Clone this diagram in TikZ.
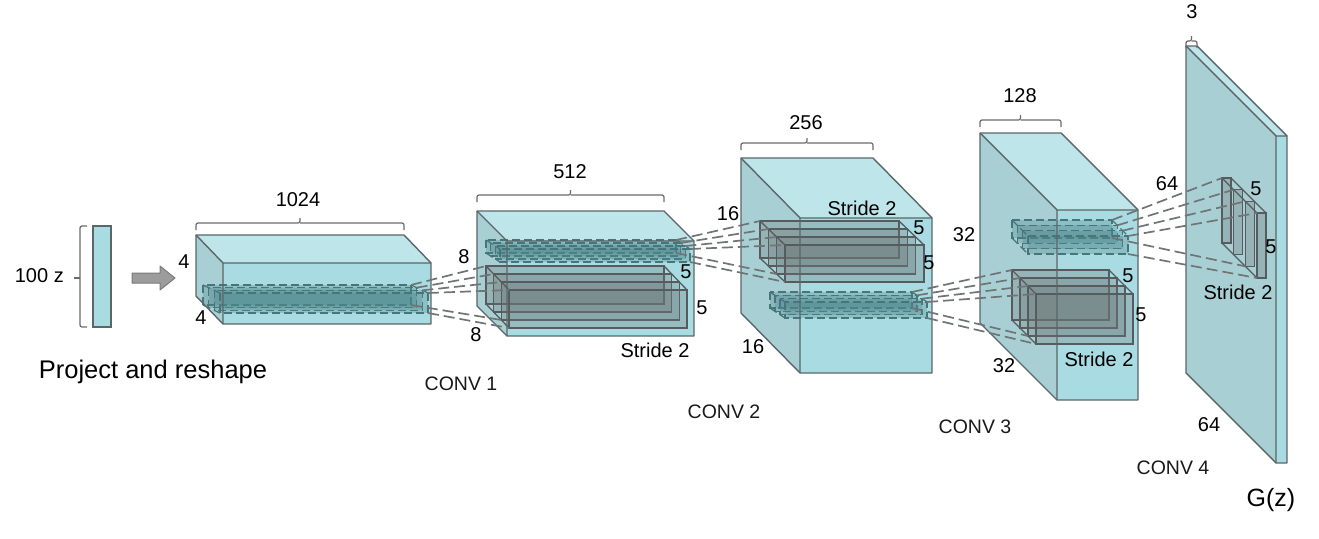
\documentclass[tikz,border=0pt]{standalone}
\usepackage{fontspec}
\setmainfont{Liberation Sans}
\usetikzlibrary{calc}
\definecolor{frontc}{HTML}{A8DCE2}
\definecolor{topc}{HTML}{BEE5E9}
\definecolor{sidec}{HTML}{A8D0D4}
\definecolor{edgec}{HTML}{5B6667}
\definecolor{kgray}{HTML}{6E7677}
\definecolor{kedge}{HTML}{565C5D}
\definecolor{dteal}{HTML}{4E868B}
\definecolor{dedge}{HTML}{47767A}
\definecolor{connc}{HTML}{707475}
\definecolor{arrowc}{HTML}{9C9C9C}
\definecolor{arrowe}{HTML}{7A7A7A}
\definecolor{bracec}{HTML}{6A6A6A}
\tikzset{
  edge/.style={draw=edgec, line width=1.4pt, line join=round},
  kern/.style={fill=kgray, fill opacity=0.3, draw=kedge, draw opacity=1, line width=1.3pt},
  kernl/.style={draw=kedge, line width=1.3pt},
  dkern/.style={fill=dteal, fill opacity=0.32, draw=dedge, draw opacity=1, line width=1.3pt, dash pattern=on 8pt off 4pt},
  dkernl/.style={draw=dedge, line width=1.3pt, dash pattern=on 8pt off 4pt},
  conn/.style={draw=connc, line width=1.7pt, dash pattern=on 11pt off 5pt},
  lbl/.style={inner sep=0pt, font=\fontsize{20}{24}\selectfont, text=black},
  conv/.style={inner sep=0pt, font=\fontsize{19.5}{23}\selectfont, text=black!90},
  bracestyle/.style={draw=bracec, line width=1.2pt, rounded corners=2pt},
}
% name x y w h dx dy
\newcommand{\mkbox}[7]{%
  \coordinate (#1-btl) at (#2,#3);
  \coordinate (#1-btr) at ({#2+#4},#3);
  \coordinate (#1-bbl) at (#2,{#3+#5});
  \coordinate (#1-bbr) at ({#2+#4},{#3+#5});
  \coordinate (#1-s1tl) at ({#2+#6/3},{#3+#7/3});
  \coordinate (#1-s1tr) at ({#2+#4+#6/3},{#3+#7/3});
  \coordinate (#1-s1bl) at ({#2+#6/3},{#3+#5+#7/3});
  \coordinate (#1-s1br) at ({#2+#4+#6/3},{#3+#5+#7/3});
  \coordinate (#1-s2tl) at ({#2+2*#6/3},{#3+2*#7/3});
  \coordinate (#1-s2tr) at ({#2+#4+2*#6/3},{#3+2*#7/3});
  \coordinate (#1-s2bl) at ({#2+2*#6/3},{#3+#5+2*#7/3});
  \coordinate (#1-s2br) at ({#2+#4+2*#6/3},{#3+#5+2*#7/3});
  \coordinate (#1-ftl) at ({#2+#6},{#3+#7});
  \coordinate (#1-ftr) at ({#2+#4+#6},{#3+#7});
  \coordinate (#1-fbl) at ({#2+#6},{#3+#5+#7});
  \coordinate (#1-fbr) at ({#2+#4+#6},{#3+#5+#7});
}
\newcommand{\blockfaces}[1]{%
  \fill[topc] (#1-btl)--(#1-btr)--(#1-ftr)--(#1-ftl)--cycle;
  \fill[sidec] (#1-btl)--(#1-ftl)--(#1-fbl)--(#1-bbl)--cycle;
  \fill[frontc] (#1-ftl) rectangle (#1-fbr);
}
\newcommand{\blockedges}[1]{%
  \draw[edge] (#1-btl)--(#1-btr)--(#1-ftr)--(#1-fbr)--(#1-fbl)--(#1-bbl)--cycle;
  \draw[edge] (#1-btl)--(#1-ftl)--(#1-ftr) (#1-ftl)--(#1-fbl);
}
\newcommand{\kernel}[2]{%
  \foreach \s in {b,s1,s2,f} {\path[#2] (#1-\s tl) rectangle (#1-\s br);}
  \draw[#2l] (#1-btl)--(#1-ftl) (#1-btr)--(#1-ftr) (#1-bbl)--(#1-fbl);
}
\newcommand{\connect}[2]{%
  \draw[conn] (#1-btr) -- (#2-btl);
  \draw[conn] (#1-s1tr) -- (#2-s1tl);
  \draw[conn] (#1-s2tr) -- (#2-s2tl);
  \draw[conn] (#1-ftr) -- (#2-ftl);
  \draw[conn] (#1-bbr) -- (#2-s2bl);
  \draw[conn] (#1-fbr) -- (#2-fbl);
}
% name x0 x1 y
\newcommand{\mybrace}[4]{%
  \coordinate (#1-l) at (#2,{#4+7});
  \coordinate (#1-r) at (#3,{#4+7});
  \coordinate (#1-m) at ({(#2+#3)/2},{#4-5});
  \draw[bracestyle] (#1-l) |- (#1-m |- 0,#4) -- (#1-m);
  \draw[bracestyle] (#1-r) |- (#1-m |- 0,#4);
}
\begin{document}
\begin{tikzpicture}[x=1pt,y=-1pt]
\useasboundingbox (0,0) rectangle (1319,538);
\fill[white] (0,0) rectangle (1319,538);

% geometry
\mkbox{B1}{196}{235}{208}{61}{27}{28}
\mkbox{B2}{477}{211}{187}{95}{30}{30}
\mkbox{B3}{741}{158}{132}{155}{59}{60}
\mkbox{B4}{980}{133}{81}{190}{77}{77}
\mkbox{B5}{1186}{46}{11}{327}{90}{90}
\mkbox{D1}{203}{285}{208}{20}{17}{8}
\mkbox{G2}{486}{266}{178}{38}{23}{24}
\mkbox{D2}{486}{240}{190}{13}{14}{9}
\mkbox{G3}{760}{221}{139}{37}{25}{24}
\mkbox{D3}{770}{292}{142}{16}{15}{10}
\mkbox{G4}{1012}{270}{97}{50}{24}{24}
\mkbox{D4}{1012}{220}{100}{18}{16}{16}
\mkbox{G5}{1222}{178}{9}{65}{35}{35}

% input vector
\node[draw=edgec, line width=1.3pt, fill=frontc, minimum width=18pt, minimum height=101pt, inner sep=0pt] (zvec) at (102,276.5) {};
\coordinate (zb-t) at (87,226);
\coordinate (zb-b) at (87,327);
\draw[bracestyle] (zb-t) -- (80,226) -- (80,327) -- (zb-b);
\coordinate (zb-m) at (80,278);
\coordinate (zb-tip) at (74,278);
\draw[bracestyle] (zb-m) -- (zb-tip);
\node[lbl, anchor=east] (lz) at (64,276) {100 z};
\node[inner sep=0pt, font=\fontsize{25.5}{30}\selectfont] (lproj) at (153,372) {Project and reshape};

% block arrow
\draw[fill=arrowc, draw=arrowe, line width=1pt, line join=round]
  (132,273) -- (160,273) -- (160,266) -- (175,278) -- (160,290) -- (160,283) -- (132,283) -- cycle;

% blocks
\blockfaces{B1}
\kernel{D1}{dkern}
\blockedges{B1}

\blockfaces{B2}
\kernel{G2}{kern}
\kernel{D2}{dkern}
\blockedges{B2}

\blockfaces{B3}
\kernel{G3}{kern}
\kernel{D3}{dkern}
\blockedges{B3}

\blockfaces{B4}
\kernel{G4}{kern}
\kernel{D4}{dkern}
\blockedges{B4}

\blockfaces{B5}
\kernel{G5}{kern}
\blockedges{B5}

% connectors
\connect{D1}{G2}
\connect{D2}{G3}
\connect{D3}{G4}
\connect{D4}{G5}

% braces
\mybrace{br1}{196}{404}{223}
\mybrace{br2}{477}{664}{195}
\mybrace{br3}{741}{873}{143}
\mybrace{br4}{980}{1061}{120}
\mybrace{br5}{1186}{1197}{41}
\node[lbl] (t1024) at (298,200) {1024};
\node[lbl] (t512) at (570,172) {512};
\node[lbl] (t256) at (806,123) {256};
\node[lbl] (t128) at (1020,96) {128};
\node[lbl] (t3) at (1192,12) {3};

% labels
\node[lbl] (a4) at (184,262) {4};
\node[lbl] (b4) at (201,318) {4};
\node[lbl] (a8) at (464,257) {8};
\node[lbl] (b8) at (476,335) {8};
\node[lbl] (a5) at (686,272) {5};
\node[lbl] (b5) at (702,308) {5};
\node[lbl] (s1) at (655,350) {Stride 2};
\node[lbl] (a16) at (728,214) {16};
\node[lbl] (b16) at (753,347) {16};
\node[lbl] (s2) at (862,208) {Stride 2};
\node[lbl] (c5) at (919,228) {5};
\node[lbl] (d5) at (929,263) {5};
\node[lbl] (a32) at (964,235) {32};
\node[lbl] (b32) at (1004,366) {32};
\node[lbl] (e5) at (1128,276) {5};
\node[lbl] (f5) at (1141,315) {5};
\node[lbl] (s3) at (1099,359) {Stride 2};
\node[lbl] (a64) at (1167,184) {64};
\node[lbl] (g5) at (1256,189) {5};
\node[lbl] (h5) at (1271,247) {5};
\node[lbl] (s4) at (1238,292) {Stride 2};
\node[lbl] (b64) at (1209,425) {64};
\node[conv] (cv1) at (461,384) {CONV 1};
\node[conv] (cv2) at (724,412) {CONV 2};
\node[conv] (cv3) at (975,427) {CONV 3};
\node[conv] (cv4) at (1173,468) {CONV 4};
\node[inner sep=0pt, font=\fontsize{25}{30}\selectfont] (gz) at (1271,500) {G(z)};
\end{tikzpicture}
\end{document}
